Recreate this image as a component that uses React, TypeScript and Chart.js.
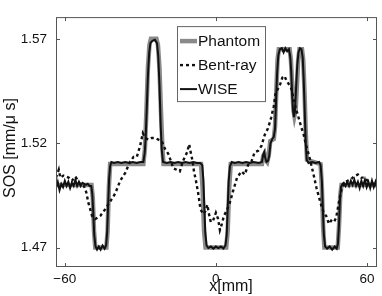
import React, { useEffect, useRef } from 'react';
import { Chart, registerables } from 'chart.js';

Chart.register(...registerables);

const FONT = '"Liberation Sans", Arial, Helvetica, sans-serif';

const X_TICKS = [-60, 0, 60];
const Y_TICKS = [1.47, 1.52, 1.57];
const X_LABEL = 'x[mm]';
const Y_LABEL = 'SOS [mm/\u03bc s]';
const SERIES_NAMES = ['Phantom', 'Bent-ray', 'WISE'];

const phantom: [number, number][] = [
  [-63.5, 1.5], [-49.4, 1.5], [-48.9, 1.494], [-48.4, 1.478], [-47.9, 1.47],
  [-43.5, 1.47], [-43.0, 1.478], [-42.5, 1.499], [-42.0, 1.51],
  [-28.8, 1.51], [-28.2, 1.517], [-27.6, 1.535], [-27.0, 1.556], [-26.4, 1.567], [-25.8, 1.57],
  [-23.6, 1.57], [-23.0, 1.567], [-22.4, 1.556], [-21.8, 1.535], [-21.2, 1.517], [-20.8, 1.51],
  [-5.9, 1.51], [-5.3, 1.499], [-4.7, 1.478], [-4.1, 1.47],
  [4.1, 1.47], [4.7, 1.478], [5.3, 1.499], [5.9, 1.51],
  [18.3, 1.51], [18.8, 1.514], [19.3, 1.515], [19.8, 1.512], [20.4, 1.511], [21.0, 1.514], [21.6, 1.521],
  [23.0, 1.522], [23.5, 1.528], [24.0, 1.545], [24.5, 1.56], [25.0, 1.565],
  [29.3, 1.565], [29.8, 1.56], [30.3, 1.548], [30.8, 1.536], [31.2, 1.533], [31.7, 1.536], [32.2, 1.548], [32.7, 1.56], [33.2, 1.565],
  [34.2, 1.565], [34.7, 1.56], [35.2, 1.545], [35.7, 1.525], [36.2, 1.512],
  [41.6, 1.51], [42.1, 1.499], [42.6, 1.48], [43.1, 1.47],
  [48.4, 1.47], [48.9, 1.48], [49.4, 1.495], [49.9, 1.5], [64.0, 1.5],
];

const bentRay: [number, number][] = [
  [-63.5, 1.5035], [-62.4, 1.5073], [-61.8, 1.5035], [-60.5, 1.5045], [-58.5, 1.5035], [-57.2, 1.502],
  [-55.8, 1.504], [-53.9, 1.5004], [-52.5, 1.4997], [-51.5, 1.4966], [-50.6, 1.4913], [-49.2, 1.4852],
  [-47.9, 1.4837], [-45.9, 1.4852], [-44.0, 1.4883], [-42.0, 1.492], [-40.0, 1.4959], [-38.0, 1.502],
  [-36.0, 1.5058], [-34.1, 1.5111], [-32.7, 1.5134], [-31.4, 1.5134], [-30.1, 1.5187], [-29.0, 1.5248],
  [-28.1, 1.5225], [-26.8, 1.5217], [-25.5, 1.5225], [-24.2, 1.5225], [-22.8, 1.5217], [-21.5, 1.521],
  [-20.2, 1.5172], [-18.9, 1.5149], [-18.0, 1.5119], [-16.9, 1.508], [-15.6, 1.5073], [-14.3, 1.5065],
  [-13.2, 1.5111], [-12.3, 1.5134], [-11.4, 1.5157], [-10.6, 1.5195], [-10.0, 1.5157], [-9.2, 1.5111],
  [-8.7, 1.5065], [-7.9, 1.502], [-7.0, 1.4959], [-6.1, 1.4883], [-5.0, 1.486], [-4.1, 1.4875],
  [-3.4, 1.4905], [-2.6, 1.4852], [-2.0, 1.4822], [-1.1, 1.4829], [0.0, 1.4867], [0.9, 1.4837],
  [1.6, 1.4784], [2.4, 1.4814], [3.2, 1.4852], [4.2, 1.4875], [5.5, 1.4913], [6.9, 1.4974],
  [8.4, 1.5035], [10.2, 1.5065], [11.5, 1.505], [12.8, 1.5096], [14.1, 1.5111], [15.4, 1.5157],
  [16.8, 1.5164], [18.1, 1.5187], [19.4, 1.524], [20.7, 1.5271], [22.0, 1.5324], [23.0, 1.5377],
  [23.8, 1.5446], [24.7, 1.5461], [25.6, 1.5484], [26.4, 1.5514], [27.3, 1.5522], [28.0, 1.55],
  [28.9, 1.5484], [30.0, 1.5461], [30.9, 1.5408], [31.9, 1.5362], [33.0, 1.5316], [33.9, 1.5278],
  [34.9, 1.524], [35.9, 1.5187], [37.0, 1.5141], [37.9, 1.5096], [38.8, 1.505], [39.9, 1.4989],
  [40.9, 1.4944], [41.8, 1.4905], [42.8, 1.4867], [43.8, 1.4852], [44.9, 1.4814], [45.8, 1.4829],
  [46.9, 1.4822], [47.8, 1.4845], [48.8, 1.4913], [49.8, 1.4974], [51.1, 1.5012], [52.4, 1.502],
  [53.7, 1.5027], [55.0, 1.5042], [56.4, 1.505], [57.7, 1.5035], [59.0, 1.5035], [60.3, 1.502],
  [61.6, 1.5012], [63.0, 1.5004], [63.9, 1.4997],
];

const wise: [number, number][] = [
  [-63.5, 1.4985], [-62.8, 1.5015], [-62.1, 1.4975], [-61.4, 1.5005], [-60.7, 1.499], [-60.0, 1.502],
  [-59.3, 1.4995], [-58.6, 1.5015], [-57.9, 1.4985], [-57.2, 1.501], [-56.5, 1.4995], [-55.8, 1.5025],
  [-55.1, 1.4995], [-54.4, 1.5015], [-53.7, 1.4995], [-53.0, 1.501], [-52.3, 1.5005], [-51.6, 1.5],
  [-50.9, 1.5005], [-50.2, 1.4995], [-49.5, 1.4995], [-49.1, 1.496], [-48.7, 1.487], [-48.3, 1.476],
  [-47.8, 1.4705], [-47.2, 1.469], [-46.5, 1.4705], [-45.8, 1.469], [-45.0, 1.471], [-44.2, 1.4695],
  [-43.6, 1.471], [-43.2, 1.477], [-42.8, 1.49], [-42.4, 1.503], [-42.0, 1.509], [-41.5, 1.511],
  [-40.5, 1.5105], [-39.0, 1.511], [-37.5, 1.5105], [-36.0, 1.511], [-34.5, 1.5105], [-33.0, 1.511],
  [-31.5, 1.5105], [-30.0, 1.511], [-28.8, 1.511], [-28.3, 1.515], [-27.9, 1.522], [-27.5, 1.535],
  [-27.0, 1.552], [-26.5, 1.563], [-26.0, 1.568], [-25.2, 1.569], [-24.2, 1.5695], [-23.4, 1.568],
  [-22.9, 1.562], [-22.4, 1.548], [-21.9, 1.528], [-21.5, 1.517], [-21.0, 1.511], [-19.5, 1.5105],
  [-18.0, 1.511], [-16.5, 1.5105], [-15.0, 1.511], [-13.5, 1.5105], [-12.0, 1.511], [-10.5, 1.5105],
  [-9.0, 1.511], [-7.5, 1.5105], [-6.2, 1.5105], [-5.4, 1.5095], [-5.0, 1.503], [-4.6, 1.49],
  [-4.2, 1.477], [-3.7, 1.471], [-3.0, 1.4698], [-2.0, 1.4705], [-1.0, 1.4695], [0.0, 1.4705],
  [1.0, 1.4698], [2.0, 1.4705], [3.0, 1.4695], [3.8, 1.471], [4.3, 1.476], [4.7, 1.489],
  [5.1, 1.502], [5.6, 1.509], [6.3, 1.511], [7.5, 1.5105], [9.0, 1.511], [10.5, 1.5105],
  [12.0, 1.511], [13.5, 1.5105], [15.0, 1.511], [17.0, 1.5105], [18.3, 1.511], [18.8, 1.5145],
  [19.2, 1.5158], [19.6, 1.513], [20.1, 1.511], [20.7, 1.5115], [21.2, 1.514], [21.7, 1.52],
  [22.4, 1.522], [23.0, 1.523], [23.5, 1.527], [23.9, 1.54], [24.3, 1.553], [24.8, 1.562],
  [25.4, 1.565], [26.2, 1.5655], [26.9, 1.5635], [27.6, 1.5655], [28.3, 1.564], [29.0, 1.565],
  [29.5, 1.562], [29.9, 1.555], [30.3, 1.543], [30.7, 1.535], [31.0, 1.5325], [31.4, 1.535],
  [31.8, 1.545], [32.3, 1.557], [32.8, 1.5635], [33.4, 1.5655], [34.0, 1.565], [34.5, 1.561],
  [34.9, 1.55], [35.3, 1.535], [35.7, 1.52], [36.1, 1.512], [36.8, 1.5105], [38.2, 1.511],
  [39.6, 1.5105], [41.0, 1.511], [41.6, 1.5095], [42.1, 1.502], [42.5, 1.488], [42.9, 1.476],
  [43.4, 1.4705], [44.2, 1.4695], [45.2, 1.4705], [46.2, 1.469], [47.2, 1.4705], [48.0, 1.4695],
  [48.5, 1.472], [48.9, 1.481], [49.3, 1.493], [49.7, 1.499], [50.3, 1.5005], [50.8, 1.501],
  [51.5, 1.4995], [52.2, 1.5015], [52.9, 1.4995], [53.6, 1.502], [54.3, 1.5], [55.0, 1.5025],
  [55.7, 1.4995], [56.4, 1.5015], [57.1, 1.4985], [57.8, 1.502], [58.5, 1.4995], [59.2, 1.5025],
  [59.9, 1.499], [60.6, 1.5015], [61.3, 1.4985], [62.0, 1.502], [62.7, 1.499], [63.4, 1.5015],
  [64.0, 1.4985],
];

const toPts = (arr: [number, number][]) => arr.map(([x, y]) => ({ x, y }));

const decorPlugin = {
  id: 'decor',
  afterDatasetsDraw(chart: any) {
    const { ctx, chartArea: a, scales } = chart;
    ctx.save();
    ctx.strokeStyle = '#555555';
    ctx.lineWidth = 1;
    ctx.strokeRect(a.left + 0.5, a.top + 0.5, a.right - a.left - 1, a.bottom - a.top - 1);
    const tl = 4;
    ctx.beginPath();
    X_TICKS.forEach((v) => {
      const px = Math.round(scales.x.getPixelForValue(v)) + 0.5;
      ctx.moveTo(px, a.bottom);
      ctx.lineTo(px, a.bottom - tl);
      ctx.moveTo(px, a.top);
      ctx.lineTo(px, a.top + tl);
    });
    Y_TICKS.forEach((v) => {
      const py = Math.round(scales.y.getPixelForValue(v)) + 0.5;
      ctx.moveTo(a.left, py);
      ctx.lineTo(a.left + tl, py);
      ctx.moveTo(a.right, py);
      ctx.lineTo(a.right - tl, py);
    });
    ctx.stroke();
    ctx.restore();
  },
  afterDraw(chart: any) {
    const { ctx, chartArea: a } = chart;
    ctx.save();
    const lx = a.left + 121;
    const ly = a.top + 9;
    const lw = 88;
    const lh = 75;
    ctx.fillStyle = '#ffffff';
    ctx.fillRect(lx, ly, lw, lh);
    ctx.strokeStyle = '#666666';
    ctx.lineWidth = 1;
    ctx.strokeRect(lx + 0.5, ly + 0.5, lw, lh);
    const order = [0, 1, 2];
    order.forEach((di, i) => {
      const ds = chart.data.datasets[di];
      const ry = ly + 15 + i * 24;
      ctx.save();
      ctx.strokeStyle = ds.borderColor;
      ctx.lineWidth = ds.borderWidth;
      ctx.setLineDash(ds.borderDash || []);
      ctx.beginPath();
      ctx.moveTo(lx + 3, ry);
      ctx.lineTo(lx + 20, ry);
      ctx.stroke();
      ctx.restore();
      ctx.fillStyle = '#111111';
      ctx.font = '15.5px ' + FONT;
      ctx.textAlign = 'left';
      ctx.textBaseline = 'middle';
      ctx.fillText(ds.label, lx + 21, ry + 1);
    });
    ctx.fillStyle = '#111111';
    ctx.font = '16px ' + FONT;
    ctx.textAlign = 'center';
    ctx.textBaseline = 'middle';
    ctx.fillText(X_LABEL, a.left + 175, a.bottom + 20);
    ctx.save();
    ctx.translate(11, (a.top + a.bottom) / 2 + 6);
    ctx.rotate(-Math.PI / 2);
    ctx.fillText(Y_LABEL, 0, 0);
    ctx.restore();
    ctx.restore();
  },
};

export default function App() {
  const ref = useRef<HTMLCanvasElement | null>(null);
  useEffect(() => {
    if (!ref.current) return;
    const chart = new Chart(ref.current, {
      type: 'line',
      data: {
        datasets: [
          {
            label: SERIES_NAMES[0],
            data: toPts(phantom),
            borderColor: '#8a8a8a',
            borderWidth: 4.5,
            pointRadius: 0,
            tension: 0,
            order: 3,
          },
          {
            label: SERIES_NAMES[1],
            data: toPts(bentRay),
            borderColor: '#111111',
            borderWidth: 2.4,
            borderDash: [3, 3],
            pointRadius: 0,
            tension: 0,
            order: 2,
          },
          {
            label: SERIES_NAMES[2],
            data: toPts(wise),
            borderColor: '#111111',
            borderWidth: 2,
            pointRadius: 0,
            tension: 0,
            order: 1,
          },
        ],
      },
      options: {
        responsive: false,
        animation: false,
        parsing: false as any,
        layout: { padding: { top: 5, right: 5, left: 0, bottom: 0 } },
        plugins: { legend: { display: false }, tooltip: { enabled: false } },
        scales: {
          x: {
            type: 'linear',
            min: -63.5,
            max: 64,
            grid: { display: false, drawTicks: false },
            border: { display: false },
            afterBuildTicks: (s: any) => {
              s.ticks = X_TICKS.map((v) => ({ value: v }));
            },
            afterFit: (s: any) => {
              s.height = 29;
            },
            ticks: {
              padding: 4,
              maxRotation: 0,
              color: '#111111',
              font: { family: FONT, size: 13.5 },
              callback: (v: any) => (v < 0 ? '\u2212' + Math.abs(v) : String(v)),
            },
          },
          y: {
            type: 'linear',
            min: 1.4607,
            max: 1.5804,
            grid: { display: false, drawTicks: false },
            border: { display: false },
            afterBuildTicks: (s: any) => {
              s.ticks = Y_TICKS.map((v) => ({ value: v }));
            },
            afterFit: (s: any) => {
              s.width = 56;
            },
            ticks: {
              padding: 9,
              color: '#111111',
              font: { family: FONT, size: 13.5 },
              callback: (v: any) => Number(v).toFixed(2),
            },
          },
        },
      },
      plugins: [decorPlugin],
    });
    return () => chart.destroy();
  }, []);
  return (
    <canvas
      ref={ref}
      width={382}
      height={296}
      style={{ position: 'fixed', left: 0, top: 0, width: 382, height: 296, display: 'block', background: '#fff' }}
    />
  );
}
